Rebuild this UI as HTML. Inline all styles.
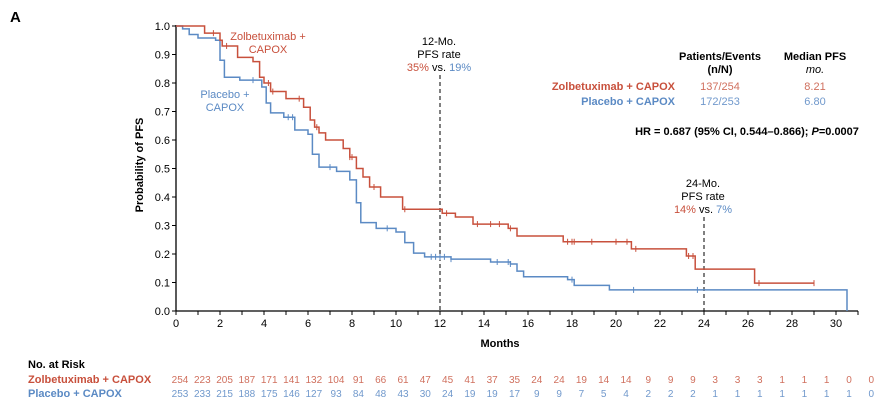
<!DOCTYPE html>
<html><head><meta charset="utf-8"><style>
html,body{margin:0;padding:0;background:#fff;width:892px;height:409px;overflow:hidden}
svg{font-family:"Liberation Sans",Arial,sans-serif}
</style></head><body>
<svg id="c" width="892" height="409" viewBox="0 0 892 409">
<text x="10" y="22" font-size="15" font-weight="bold">A</text>
<text transform="translate(143,165) rotate(-90)" text-anchor="middle" font-size="11" font-weight="bold">Probability of PFS</text>
<text x="500" y="347" text-anchor="middle" font-size="11" font-weight="bold">Months</text>
<g id="axes"></g>
<g id="curves"></g>
<g font-size="11">
<text x="720" y="60" text-anchor="middle" font-weight="bold">Patients/Events</text>
<text x="720" y="73" text-anchor="middle" font-weight="bold">(n/N)</text>
<text x="815" y="60" text-anchor="middle" font-weight="bold">Median PFS</text>
<text x="815" y="73" text-anchor="middle" font-style="italic">mo.</text>
<text x="675" y="90" text-anchor="end" font-weight="bold" fill="#c8503c">Zolbetuximab + CAPOX</text>
<text x="720" y="90" text-anchor="middle" fill="#d0705e">137/254</text>
<text x="815" y="90" text-anchor="middle" fill="#d0705e">8.21</text>
<text x="675" y="105" text-anchor="end" font-weight="bold" fill="#5b8ac4">Placebo + CAPOX</text>
<text x="720" y="105" text-anchor="middle" fill="#7199cc">172/253</text>
<text x="815" y="105" text-anchor="middle" fill="#7199cc">6.80</text>
<text x="747" y="135" text-anchor="middle" font-weight="bold">HR = 0.687 (95% CI, 0.544–0.866); <tspan font-style="italic">P</tspan>=0.0007</text>
</g>
<g font-size="11">
<text x="268" y="40" text-anchor="middle" fill="#c8503c">Zolbetuximab +</text>
<text x="268" y="53" text-anchor="middle" fill="#c8503c">CAPOX</text>
<text x="225" y="98" text-anchor="middle" fill="#5b8ac4">Placebo +</text>
<text x="225" y="111" text-anchor="middle" fill="#5b8ac4">CAPOX</text>
<text x="439" y="45" text-anchor="middle">12-Mo.</text>
<text x="439" y="58" text-anchor="middle">PFS rate</text>
<text x="439" y="71" text-anchor="middle"><tspan fill="#c8503c">35%</tspan> vs. <tspan fill="#5b8ac4">19%</tspan></text>
<text x="703" y="187" text-anchor="middle">24-Mo.</text>
<text x="703" y="200" text-anchor="middle">PFS rate</text>
<text x="703" y="213" text-anchor="middle"><tspan fill="#c8503c">14%</tspan> vs. <tspan fill="#5b8ac4">7%</tspan></text>
</g>
<text x="28" y="368" font-size="11" font-weight="bold">No. at Risk</text>
<text x="28" y="383" font-size="11" font-weight="bold" fill="#c8503c">Zolbetuximab + CAPOX</text>
<text x="28" y="397" font-size="11" font-weight="bold" fill="#5b8ac4">Placebo + CAPOX</text>
<g id="risk"></g>
</svg>
<script>
const xTicks=[0,2,4,6,8,10,12,14,16,18,20,22,24,26,28,30];
const yTicks=[0,0.1,0.2,0.3,0.4,0.5,0.6,0.7,0.8,0.9,1.0];
const zolbeT=[0,1.3,2.0,2.1,2.8,3.5,3.8,4.0,4.3,5.0,5.8,6.1,6.3,6.5,6.8,7.6,7.9,8.2,8.5,8.8,9.3,10.3,12.1,12.7,13.5,15.1,15.5,17.6,20.7,23.2,23.6,26.3,29.0];
const zolbeS=[1.0,0.975,0.95,0.93,0.89,0.875,0.82,0.80,0.77,0.745,0.715,0.67,0.645,0.625,0.60,0.57,0.54,0.50,0.47,0.435,0.40,0.357,0.343,0.33,0.305,0.29,0.263,0.243,0.218,0.193,0.147,0.098,0.098];
const placT=[0,0.3,0.6,1.0,1.8,2.0,2.2,2.9,3.9,4.1,4.3,4.9,5.4,6.0,6.2,6.5,7.3,7.9,8.2,8.4,9.1,10.0,10.4,10.8,11.3,12.5,14.3,15.2,15.5,15.8,17.8,18.1,19.7,30.5];
const placS=[1.0,0.99,0.97,0.958,0.95,0.88,0.82,0.81,0.786,0.73,0.695,0.68,0.635,0.62,0.55,0.505,0.49,0.46,0.38,0.31,0.29,0.277,0.24,0.203,0.19,0.182,0.172,0.165,0.14,0.12,0.11,0.09,0.074,0.0];
const zolbeCens=[1.7,2.3,4.2,4.4,5.6,6.4,7.9,8.0,9.0,10.4,12.3,13.7,14.3,14.7,15.2,17.8,18.0,18.1,18.9,20.0,20.5,20.9,23.3,23.5,26.5,29.0];
const placCens=[3.5,5.1,5.3,7.0,9.6,11.6,11.8,12.0,12.2,12.5,14.6,15.1,15.2,18.0,20.8,23.7];
const riskZolbe=[254,223,205,187,171,141,132,104,91,66,61,47,45,41,37,35,24,24,19,14,14,9,9,9,3,3,3,1,1,1,0,0];
const riskPlac=[253,233,215,188,175,146,127,93,84,48,43,30,24,19,19,17,9,9,7,5,4,2,2,2,1,1,1,1,1,1,1,0];
const NS='http://www.w3.org/2000/svg';
const X=m=>176+m*22, Y=v=>311-v*285;
function mk(t,a,p){const e=document.createElementNS(NS,t);for(const k in a)e.setAttribute(k,a[k]);p.appendChild(e);return e;}
const ax=document.getElementById('axes');
let e=mk('line',{x1:176,y1:311,x2:X(31),y2:311,stroke:'#000','stroke-width':1.3},ax);


e=mk('line',{x1:176,y1:Y(1.0)-1,x2:176,y2:311,stroke:'#000','stroke-width':1.3},ax);


for(let m=0;m<=31;m++){mk('line',{x1:X(m),y1:311,x2:X(m),y2:315,stroke:'#000'},ax);}
xTicks.forEach(t=>{const tx=mk('text',{x:X(t),y:327,'text-anchor':'middle','font-size':11},ax);tx.textContent=t;

});
yTicks.forEach(t=>{mk('line',{x1:172,y1:Y(t),x2:176,y2:Y(t),stroke:'#000'},ax);const tx=mk('text',{x:170,y:Y(t)+4,'text-anchor':'end','font-size':11},ax);tx.textContent=t.toFixed(1);

});
[12,24].forEach(m=>{const l=mk('line',{x1:X(m),y1:m==12?75:217,x2:X(m),y2:311,stroke:'#000','stroke-dasharray':'4,3'},ax);

});
const cv=document.getElementById('curves');
function step(T,S,col,name,cens){let d='M'+X(T[0])+','+Y(S[0]);for(let i=1;i<T.length;i++){d+='H'+X(T[i])+'V'+Y(S[i]);}
const p=mk('path',{d:d,fill:'none',stroke:col,'stroke-width':1.5},cv);


cens.forEach(c=>{let s=S[0];for(let i=0;i<T.length;i++){if(T[i]<=c)s=S[i];}
const t=mk('line',{x1:X(c),y1:Y(s)-3,x2:X(c),y2:Y(s)+3,stroke:col,'stroke-width':1},cv);

});}
step(placT,placS,'#5b8ac4','placebo-curve',placCens);
step(zolbeT,zolbeS,'#c8503c','zolbetuximab-curve',zolbeCens);
const rk=document.getElementById('risk');
function row(v,y,col,name){v.forEach((n,i)=>{const t=mk('text',{x:180+i*22.3,y:y,'text-anchor':'middle','font-size':10,fill:col},rk);t.textContent=n;

});}
row(riskZolbe,383,'#d0705e','risk-zolbe-value');
row(riskPlac,397,'#7199cc','risk-placebo-value');
</script>
</body></html>
